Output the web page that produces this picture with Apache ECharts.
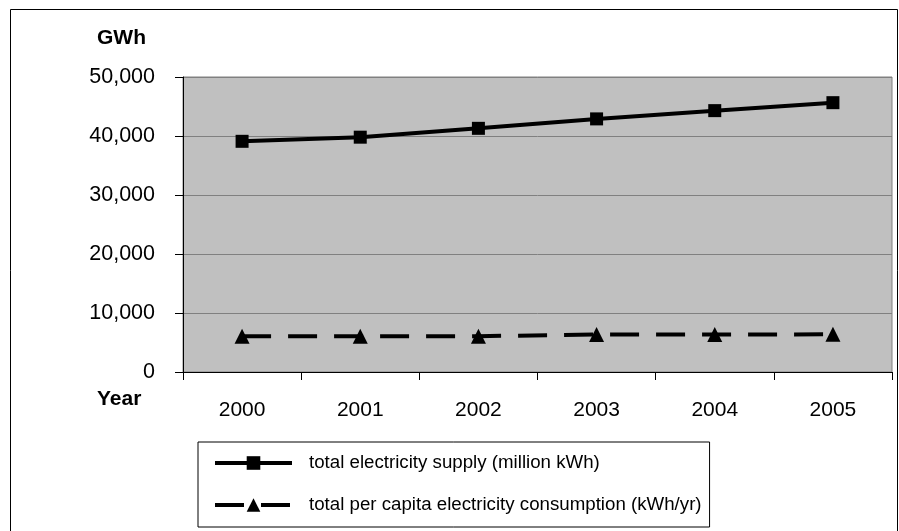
<!DOCTYPE html>
<html>
<head>
<meta charset="utf-8">
<script src="https://cdn.jsdelivr.net/npm/echarts@6/dist/echarts.min.js"></script>
<style>
  html, body { margin: 0; padding: 0; background: #ffffff; }
  #chart { width: 899px; height: 531px; }
</style>
</head>
<body>
<div id="chart"></div>
<script>
// Years on the category axis
const years = ['2000', '2001', '2002', '2003', '2004', '2005'];

// Total electricity supply (million kWh = GWh)
const supply = [39100, 39800, 41300, 42900, 44300, 45650];

// Total per capita electricity consumption (kWh/yr)
const perCapita = [6050, 6060, 6070, 6350, 6360, 6380];

// Value axis settings
const yMin = 0;
const yMax = 50000;
const yStep = 10000;

const seriesNames = [
  'total electricity supply (million kWh)',
  'total per capita electricity consumption (kWh/yr)'
];

const FONT = "'Liberation Sans', Arial, sans-serif";

const chart = echarts.init(document.getElementById('chart'), null, { renderer: 'canvas' });

chart.setOption({
  animation: false,
  backgroundColor: '#ffffff',
  textStyle: { fontFamily: FONT },
  grid: {
    left: 183,
    right: 7,
    top: 77,
    bottom: 159,
    show: true,
    backgroundColor: '#c0c0c0',
    borderColor: '#808080',
    borderWidth: 1
  },
  graphic: [
    {
      type: 'rect',
      shape: { x: 10.5, y: 9.5, width: 887, height: 540 },
      style: { fill: 'none', stroke: '#000000', lineWidth: 1 },
      z: 0
    },
    {
      type: 'text',
      left: 97, top: 28,
      style: { text: 'GWh', font: "bold 21px 'Liberation Sans', Arial, sans-serif", fill: '#000000' }
    },
    {
      type: 'text',
      left: 97, top: 389,
      style: { text: 'Year', font: "bold 21px 'Liberation Sans', Arial, sans-serif", fill: '#000000' }
    }
  ],
  legend: {
    orient: 'vertical',
    left: 198,
    top: 442,
    borderColor: '#000000',
    borderWidth: 1,
    padding: [11, 8, 12, 15],
    itemGap: 22,
    itemWidth: 77,
    itemHeight: 17,
    lineStyle: { width: 4 },
    textStyle: {
      fontFamily: FONT, fontSize: 18.7, color: '#000000',
      lineHeight: 20, padding: [0, 0, 0, 12]
    },
    data: seriesNames
  },
  xAxis: {
    type: 'category',
    data: years,
    boundaryGap: true,
    axisLine: { lineStyle: { color: '#000000', width: 1 } },
    axisTick: { show: true, length: 8, lineStyle: { color: '#000000' } },
    axisLabel: { fontFamily: FONT, fontSize: 21, color: '#000000', margin: 28 },
    splitLine: { show: false }
  },
  yAxis: {
    type: 'value',
    min: yMin,
    max: yMax,
    interval: yStep,
    axisLine: { show: true, lineStyle: { color: '#000000', width: 1 } },
    axisTick: { show: true, length: 8, lineStyle: { color: '#000000' } },
    axisLabel: {
      fontFamily: FONT, fontSize: 21.5, color: '#000000', margin: 28,
      formatter: v => v.toLocaleString('en-US')
    },
    splitLine: { show: true, lineStyle: { color: '#808080', width: 1 } }
  },
  series: [
    {
      name: seriesNames[0],
      type: 'line',
      data: supply,
      symbol: 'rect',
      symbolSize: 13,
      itemStyle: { color: '#000000' },
      lineStyle: { color: '#000000', width: 4 }
    },
    {
      name: seriesNames[1],
      type: 'line',
      data: perCapita,
      symbol: 'triangle',
      symbolSize: 15,
      itemStyle: { color: '#000000' },
      lineStyle: { color: '#000000', width: 4, type: [29, 17], cap: 'butt' }
    }
  ]
});
</script>
</body>
</html>
